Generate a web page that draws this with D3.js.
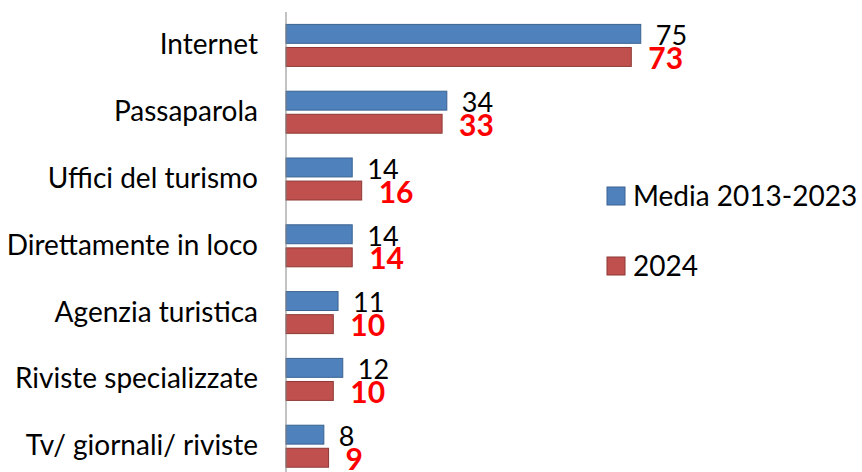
<!DOCTYPE html>
<html>
<head>
<meta charset="utf-8">
<script src="https://cdn.jsdelivr.net/npm/d3@7"></script>
<style>
  body { margin: 0; background: #fff; }
  svg { display: block; font-family: Lato, "Open Sans", sans-serif; }
</style>
</head>
<body>
<svg id="chart"></svg>
<script>
// Categories and values
const categories = ["Internet", "Passaparola", "Uffici del turismo", "Direttamente in loco",
                    "Agenzia turistica", "Riviste specializzate", "Tv/ giornali/ riviste"];
const media = [75, 34, 14, 14, 11, 12, 8];
const y2024 = [73, 33, 16, 14, 10, 10, 9];
const seriesNames = ["Media 2013-2023", "2024"];

const width = 862, height = 472;
const x0 = 286;

const svg = d3.select("#chart").attr("width", width).attr("height", height);

// x scale: 1 unit ~ 4.73 px
const x = d3.scaleLinear().domain([0, 100]).range([x0, x0 + 473]);

// outer band per category
const y = d3.scaleBand().domain(categories).range([12, 12 + 7 * 66.8]).paddingInner(0).paddingOuter(0);

// inner band for the two series
const inner = d3.scaleBand().domain([0, 1]).range([y.bandwidth() / 2 - 21, y.bandwidth() / 2 + 21]).paddingInner(0.18);

const colors = ["#4f81bd", "#c0504d"];
const strokes = ["#3a6391", "#8c3836"];

const data = [];
categories.forEach((c, i) => {
  data.push({ cat: c, s: 0, v: media[i] });
  data.push({ cat: c, s: 1, v: y2024[i] });
});

svg.selectAll("rect.bar")
  .data(data)
  .enter()
  .append("rect")
  .attr("class", "bar")
  .attr("x", x(0))
  .attr("y", d => y(d.cat) + inner(d.s))
  .attr("width", d => x(d.v) - x(0))
  .attr("height", inner.bandwidth())
  .attr("fill", d => colors[d.s])
  .attr("stroke", d => strokes[d.s])
  .attr("stroke-width", 1);

// value labels
svg.selectAll("text.val")
  .data(data)
  .enter()
  .append("text")
  .attr("class", "val")
  .attr("x", d => x(d.v) + (d.s === 0 ? 15 : 17))
  .attr("y", d => y(d.cat) + inner(d.s) + inner.bandwidth() / 2)
  .attr("dy", d => d.s === 0 ? "0.42em" : "0.4em")
  .attr("font-size", d => d.s === 0 ? 27 : 30)
  .attr("font-weight", d => d.s === 0 ? "normal" : "bold")
  .attr("fill", d => d.s === 0 ? "#000" : "#ff0000")
  .text(d => d.v);

// y axis (vertical line with category labels)
const yAxis = d3.axisLeft(y).tickSize(0).tickPadding(28);
const gy = svg.append("g").attr("transform", `translate(${x0},0)`).call(yAxis);
gy.select(".domain").attr("stroke", "#868686").attr("d", `M0,12V${height}`);
gy.selectAll("text").attr("font-size", 28).attr("font-family", "Lato, sans-serif").attr("fill", "#000");

// legend
const legend = svg.append("g");
seriesNames.forEach((name, i) => {
  const g = legend.append("g").attr("transform", `translate(607,${196 + i * 70})`);
  g.append("rect").attr("x", 0).attr("y", -9).attr("width", 18).attr("height", 18)
    .attr("fill", colors[i]).attr("stroke", strokes[i]);
  g.append("text").attr("x", 26).attr("y", 0).attr("dy", "0.35em")
    .attr("font-size", 28).text(name);
});
</script>
</body>
</html>
